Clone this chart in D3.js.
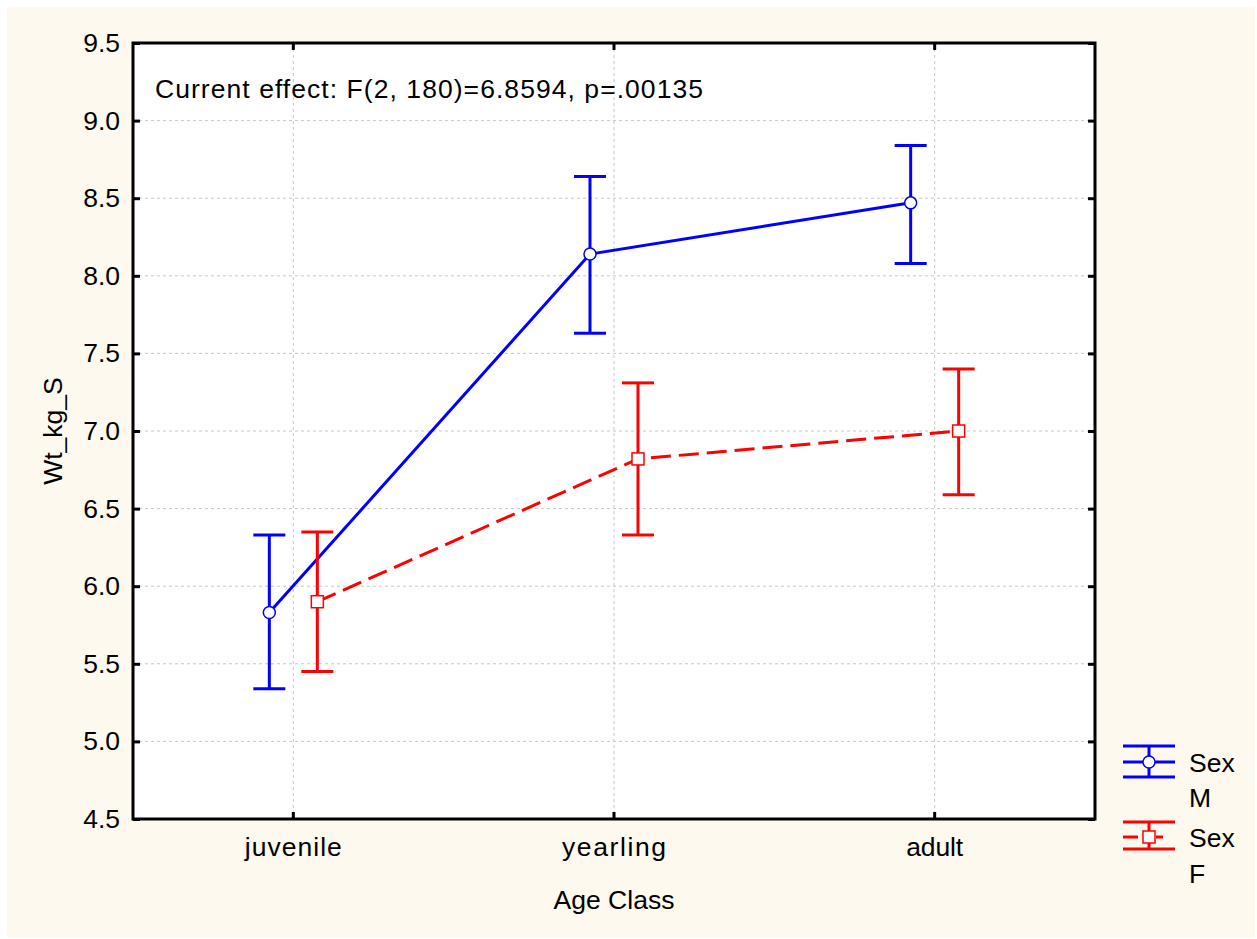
<!DOCTYPE html>
<html>
<head>
<meta charset="utf-8">
<script src="https://cdn.jsdelivr.net/npm/d3@7"></script>
<style>
  html, body { margin: 0; padding: 0; background: #ffffff; }
  svg { display: block; }
  text { font-family: "Liberation Sans", Arial, sans-serif; fill: #000; }
</style>
</head>
<body>
<svg id="chart" width="1257" height="939"></svg>
<script>
// ---- data ----
const categories = ["juvenile", "yearling", "adult"];
const yTicks = [4.5, 5.0, 5.5, 6.0, 6.5, 7.0, 7.5, 8.0, 8.5, 9.0, 9.5];
const maleMean  = [5.83, 8.14, 8.47];
const maleLow   = [5.34, 7.63, 8.08];
const maleHigh  = [6.33, 8.64, 8.84];
const femaleMean = [5.90, 6.82, 7.00];
const femaleLow  = [5.45, 6.33, 6.59];
const femaleHigh = [6.35, 7.31, 7.40];
const annotation = "Current effect: F(2, 180)=6.8594, p=.00135";
const xTitle = "Age Class";
const yTitle = "Wt_kg_S";
const legendLabels = [["Sex", "M"], ["Sex", "F"]];

// ---- layout ----
const svg = d3.select("#chart");
const W = 1257, H = 939;
const plot = { left: 133, top: 43, right: 1095, bottom: 819 };
const fontSize = 26.5;
const catLabelWidth = { juvenile: 97, yearling: 104, adult: 57 };

svg.append("rect").attr("x", 7).attr("y", 7).attr("width", W - 9).attr("height", H - 8)
  .attr("fill", "#fdf9ee");

const x = d3.scaleBand().domain(categories).range([plot.left, plot.right]).paddingInner(0).paddingOuter(0);
const y = d3.scaleLinear().domain([4.5, 9.5]).range([plot.bottom, plot.top]);
const cx = c => x(c) + x.bandwidth() / 2;
const offset = 24;

svg.append("rect").attr("x", plot.left).attr("y", plot.top)
  .attr("width", plot.right - plot.left).attr("height", plot.bottom - plot.top)
  .attr("fill", "#ffffff");

// gridlines
const grid = svg.append("g");
grid.selectAll("line.h").data(yTicks.slice(1, -1)).enter().append("line")
  .attr("x1", plot.left).attr("x2", plot.right)
  .attr("y1", d => y(d)).attr("y2", d => y(d))
  .attr("stroke", "#c8c8c8").attr("stroke-width", 1).attr("stroke-dasharray", "3,3");
grid.selectAll("line.v").data(categories).enter().append("line")
  .attr("y1", plot.top).attr("y2", plot.bottom)
  .attr("x1", d => cx(d)).attr("x2", d => cx(d))
  .attr("stroke", "#c8c8c8").attr("stroke-width", 1).attr("stroke-dasharray", "3,3");

// axes (ticks inward)
const fmt = d3.format(".1f");
const yAxisL = d3.axisLeft(y).tickValues(yTicks).tickFormat(fmt).tickSize(-7).tickPadding(13);
const yAxisR = d3.axisRight(y).tickValues(yTicks).tickFormat("").tickSize(-7);
const xAxisB = d3.axisBottom(x).tickSize(-7).tickPadding(18);
const xAxisT = d3.axisTop(x).tickFormat("").tickSize(-7);

function styleAxis(g) {
  g.select(".domain").attr("stroke", "none");
  g.selectAll(".tick line").attr("stroke", "#000").attr("stroke-width", 3);
  g.selectAll("text").attr("font-size", fontSize).attr("font-family", "Liberation Sans, Arial, sans-serif").attr("fill", "#000");
}
svg.append("g").attr("transform", `translate(${plot.left},0)`).call(yAxisL).call(styleAxis);
svg.append("g").attr("transform", `translate(${plot.right},0)`).call(yAxisR).call(styleAxis);
svg.append("g").attr("transform", `translate(0,${plot.bottom})`).call(xAxisB).call(styleAxis)
  .selectAll(".tick text").attr("textLength", d => catLabelWidth[d]).attr("lengthAdjust", "spacing");
svg.append("g").attr("transform", `translate(0,${plot.top})`).call(xAxisT).call(styleAxis);

// frame
svg.append("rect").attr("x", plot.left).attr("y", plot.top)
  .attr("width", plot.right - plot.left).attr("height", plot.bottom - plot.top)
  .attr("fill", "none").attr("stroke", "#000").attr("stroke-width", 3);

// series
const series = [
  { mean: maleMean, low: maleLow, high: maleHigh, color: "#0000ff", dx: -offset, dash: null, marker: "circle" },
  { mean: femaleMean, low: femaleLow, high: femaleHigh, color: "#ff0000", dx: offset, dash: "20,8", marker: "square" }
];
const capHalf = 16;

series.forEach(s => {
  const pts = categories.map((c, i) => ({ x: cx(c) + s.dx, m: s.mean[i], lo: s.low[i], hi: s.high[i] }));
  const g = svg.append("g");
  pts.forEach(p => {
    g.append("line").attr("x1", p.x).attr("x2", p.x).attr("y1", y(p.lo)).attr("y2", y(p.hi))
      .attr("stroke", s.color).attr("stroke-width", 3);
    [p.lo, p.hi].forEach(v => {
      g.append("line").attr("x1", p.x - capHalf).attr("x2", p.x + capHalf).attr("y1", y(v)).attr("y2", y(v))
        .attr("stroke", s.color).attr("stroke-width", 3);
    });
  });
  const line = d3.line().x(p => p.x).y(p => y(p.m));
  g.append("path").datum(pts).attr("d", line).attr("fill", "none")
    .attr("stroke", s.color).attr("stroke-width", 3)
    .attr("stroke-dasharray", s.dash);
  pts.forEach(p => {
    if (s.marker === "circle") {
      g.append("circle").attr("cx", p.x).attr("cy", y(p.m)).attr("r", 6)
        .attr("fill", "#fff").attr("stroke", s.color).attr("stroke-width", 1.5);
    } else {
      g.append("rect").attr("x", p.x - 6).attr("y", y(p.m) - 6).attr("width", 12).attr("height", 12)
        .attr("fill", "#fff").attr("stroke", s.color).attr("stroke-width", 1.5);
    }
  });
});

// annotation
svg.append("text").attr("x", 155).attr("y", 98).attr("font-size", fontSize)
  .attr("textLength", 548).attr("lengthAdjust", "spacing").text(annotation);

// axis titles
svg.append("text").attr("x", (plot.left + plot.right) / 2).attr("y", 909)
  .attr("text-anchor", "middle").attr("font-size", fontSize).text(xTitle);
svg.append("text").attr("transform", `translate(62,${(plot.top + plot.bottom) / 2}) rotate(-90)`)
  .attr("text-anchor", "middle").attr("font-size", fontSize).text(yTitle);

// legend
const legend = svg.append("g");
const legendRows = [
  { top: 746, mid: 762, bottom: 777, t1: 772, t2: 807 },
  { top: 822, mid: 837, bottom: 849, t1: 847, t2: 883 }
];
series.forEach((s, i) => {
  const r = legendRows[i];
  const lx = 1149, hw = 26;
  const lg = legend.append("g");
  [r.top, r.bottom].forEach(yy => lg.append("line").attr("x1", lx - hw).attr("x2", lx + hw)
    .attr("y1", yy).attr("y2", yy).attr("stroke", s.color).attr("stroke-width", 3));
  lg.append("line").attr("x1", lx).attr("x2", lx).attr("y1", r.top).attr("y2", r.bottom)
    .attr("stroke", s.color).attr("stroke-width", 3);
  if (s.dash) {
    lg.append("line").attr("x1", lx - hw).attr("x2", lx - 11).attr("y1", r.mid).attr("y2", r.mid).attr("stroke", s.color).attr("stroke-width", 3);
    lg.append("line").attr("x1", lx + 7).attr("x2", lx + 14).attr("y1", r.mid).attr("y2", r.mid).attr("stroke", s.color).attr("stroke-width", 3);
  } else {
    lg.append("line").attr("x1", lx - hw).attr("x2", lx + hw).attr("y1", r.mid).attr("y2", r.mid).attr("stroke", s.color).attr("stroke-width", 3);
  }
  if (s.marker === "circle") {
    lg.append("circle").attr("cx", lx).attr("cy", r.mid).attr("r", 6).attr("fill", "#fff").attr("stroke", s.color).attr("stroke-width", 1.5);
  } else {
    lg.append("rect").attr("x", lx - 6).attr("y", r.mid - 6).attr("width", 12).attr("height", 12).attr("fill", "#fff").attr("stroke", s.color).attr("stroke-width", 1.5);
  }
  lg.append("text").attr("x", 1189).attr("y", r.t1).attr("font-size", fontSize).text(legendLabels[i][0]);
  lg.append("text").attr("x", 1189).attr("y", r.t2).attr("font-size", fontSize).text(legendLabels[i][1]);
});
</script>
</body>
</html>
